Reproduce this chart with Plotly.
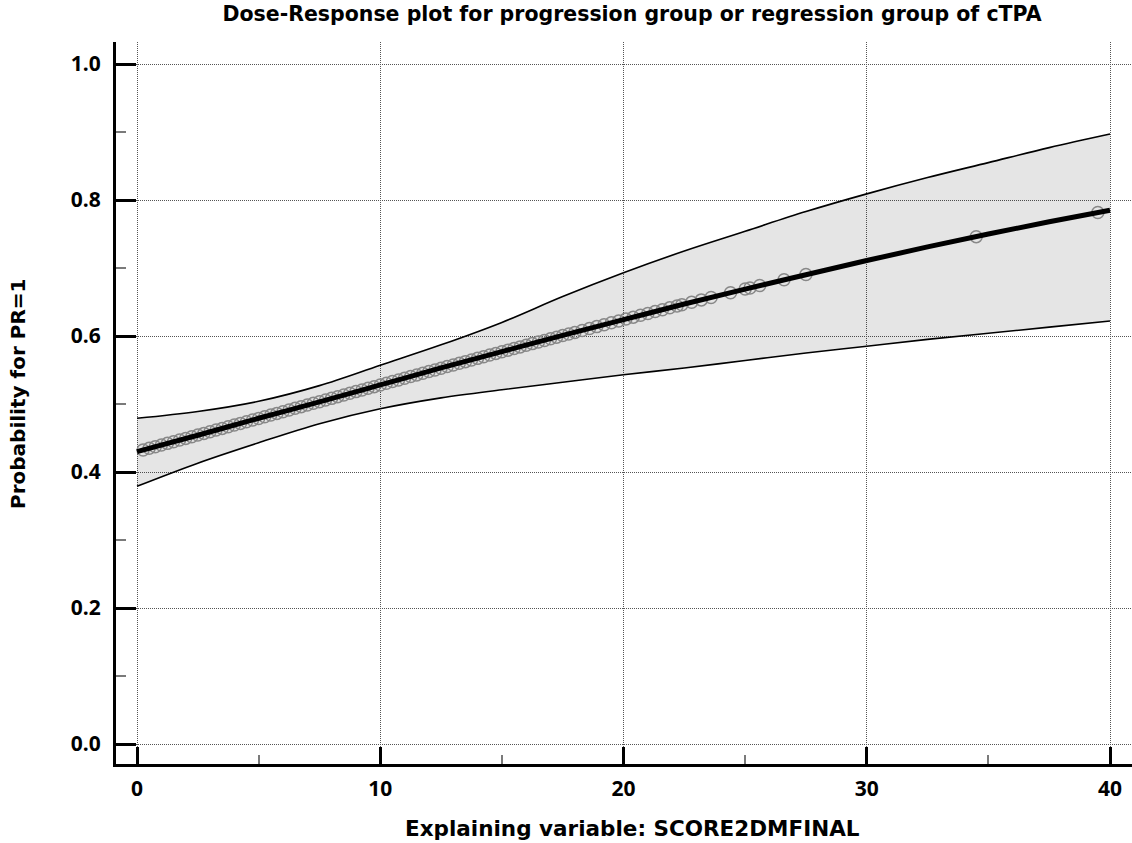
import plotly.graph_objects as go

# ---- data ----
curve_x = [0, 2.5, 5, 7.5, 10, 12.5, 15, 17.5, 20, 22.5, 25, 27.5, 30, 32.5, 35, 37.5, 40]
curve_p = [0.430, 0.454, 0.479, 0.503, 0.528, 0.553, 0.577, 0.601, 0.624, 0.647, 0.669,
           0.690, 0.711, 0.731, 0.750, 0.768, 0.785]
upper_p = [0.479, 0.489, 0.504, 0.527, 0.557, 0.587, 0.620, 0.658, 0.693, 0.725, 0.754,
           0.783, 0.809, 0.833, 0.855, 0.877, 0.897]
lower_p = [0.379, 0.413, 0.443, 0.471, 0.493, 0.509, 0.521, 0.532, 0.543, 0.553, 0.564,
           0.575, 0.585, 0.595, 0.604, 0.613, 0.622]

obs_x = [0.25, 0.5, 0.75, 1.0, 1.25, 1.5, 1.75, 2.0, 2.25, 2.5, 2.75, 3.0, 3.25, 3.5, 3.75, 4.0,
         4.25, 4.5, 4.75, 5.0, 5.25, 5.5, 5.75, 6.0, 6.25, 6.5, 6.75, 7.0, 7.25, 7.5, 7.75, 8.0,
         8.25, 8.5, 8.75, 9.0, 9.25, 9.5, 9.75, 10.0, 10.25, 10.5, 10.75, 11.0, 11.25, 11.5, 11.75, 12.0,
         12.25, 12.5, 12.75, 13.0, 13.25, 13.5, 13.75, 14.0, 14.25, 14.5, 14.75, 15.0, 15.25, 15.5, 15.75, 16.0,
         16.25, 16.5, 16.75, 17.0, 17.25, 17.5, 17.75, 18.0,
         18.3, 18.6, 18.9, 19.2, 19.5, 19.8, 20.1, 20.4, 20.7, 21.0, 21.3, 21.6, 21.9, 22.2,
         22.4, 22.8, 23.2, 23.6, 24.4, 25.0, 25.2, 25.6, 26.6, 27.5, 34.5, 39.5]
obs_p = [0.4324, 0.4348, 0.4372, 0.4396, 0.4421, 0.4445, 0.4470, 0.4494, 0.4519, 0.4543, 0.4568, 0.4592,
         0.4617, 0.4641, 0.4666, 0.4690, 0.4715, 0.4739, 0.4764, 0.4788, 0.4813, 0.4838, 0.4862, 0.4887,
         0.4912, 0.4936, 0.4961, 0.4985, 0.5010, 0.5034, 0.5059, 0.5083, 0.5108, 0.5133, 0.5157, 0.5182,
         0.5206, 0.5231, 0.5255, 0.5280, 0.5305, 0.5330, 0.5354, 0.5379, 0.5404, 0.5428, 0.5453, 0.5477,
         0.5501, 0.5526, 0.5550, 0.5574, 0.5598, 0.5623, 0.5647, 0.5671, 0.5695, 0.5720, 0.5744, 0.5768,
         0.5792, 0.5816, 0.5840, 0.5864, 0.5888, 0.5912, 0.5935, 0.5959, 0.5983, 0.6006, 0.6030, 0.6053,
         0.6081, 0.6109, 0.6138, 0.6166, 0.6194, 0.6221, 0.6249, 0.6277, 0.6304, 0.6332, 0.6359, 0.6387,
         0.6414, 0.6441, 0.6459, 0.6495, 0.6531, 0.6566, 0.6637, 0.6690, 0.6707, 0.6742, 0.6828, 0.6904,
         0.7461, 0.7817]

x_ticks = [0, 10, 20, 30, 40]
y_ticks = [0.0, 0.2, 0.4, 0.6, 0.8, 1.0]

title_text = "Dose-Response plot for progression group or regression group of cTPA"
x_title = "Explaining variable: SCORE2DMFINAL"
y_title = "Probability for PR=1"

FONT = "DejaVu Sans"
TICK_FONT = "Open Sans"

fig = go.Figure()
fig.add_trace(go.Scatter(x=curve_x, y=lower_p, mode="lines", line=dict(color="black", width=1.6, shape="spline"),
                         showlegend=False, hoverinfo="skip"))
fig.add_trace(go.Scatter(x=curve_x, y=upper_p, mode="lines", line=dict(color="black", width=1.6, shape="spline"),
                         fill="tonexty", fillcolor="rgba(0,0,0,0.10)", showlegend=False, hoverinfo="skip"))
fig.add_trace(go.Scatter(x=obs_x, y=obs_p, mode="markers",
                         marker=dict(symbol="circle-open", size=12, color="#888888", line=dict(width=1.5)),
                         showlegend=False))
fig.add_trace(go.Scatter(x=curve_x, y=curve_p, mode="lines", line=dict(color="black", width=5, shape="spline"),
                         showlegend=False))

W, H = 1132, 843
ml, mr, mt, mb = 116, 0, 42, 79
px_per_x = 24.325
px_per_y = 680.0
x0_px = 137
y0_px = 744
xr = [(ml - x0_px) / px_per_x, (W - mr - x0_px) / px_per_x]
yr = [(y0_px - (H - mb)) / px_per_y, (y0_px - mt) / px_per_y]

fig.update_layout(
    width=W, height=H,
    margin=dict(l=ml, r=mr, t=mt, b=mb, pad=0),
    paper_bgcolor="white", plot_bgcolor="white",
    font=dict(family=FONT, color="black"),
    title=dict(text="<b>" + title_text + "</b>", x=632 / W, xanchor="center", xref="container",
               y=1 - 14 / H, yanchor="middle", yref="container", font=dict(size=20.5, family=FONT)),
    annotations=[
        dict(text="<b>" + x_title + "</b>", xref="paper", yref="paper",
             x=(632 - ml) / (W - ml - mr), y=-(828 - (H - mb)) / (H - mt - mb),
             xanchor="center", yanchor="middle", showarrow=False, font=dict(size=21.5, family=FONT)),
        dict(text="<b>" + y_title + "</b>", xref="paper", yref="paper",
             x=-(ml - 18) / (W - ml - mr), y=((H - mb) - 394) / (H - mt - mb),
             xanchor="center", yanchor="middle", textangle=-90, showarrow=False,
             font=dict(size=20, family=FONT)),
    ],
)

fig.update_xaxes(
    range=xr, showline=True, linecolor="black", linewidth=3,
    tickvals=x_ticks, ticktext=["<b>%d</b>" % v for v in x_ticks],
    ticks="inside", ticklen=17, tickwidth=3, tickcolor="black",
    tickfont=dict(size=21, family=TICK_FONT), ticklabelstandoff=4,
    showgrid=True, gridcolor="#555555", gridwidth=1, griddash="1px,1px",
    minor=dict(ticks="inside", ticklen=9, tickwidth=2, tickcolor="#7a7a7a", tickvals=[5, 15, 25, 35], showgrid=False),
    zeroline=False,
)
fig.update_yaxes(
    range=yr, showline=True, linecolor="black", linewidth=3,
    tickvals=y_ticks, ticktext=["<b>%.1f</b>" % v for v in y_ticks],
    ticks="inside", ticklen=20, tickwidth=3, tickcolor="black",
    tickfont=dict(size=21, family=TICK_FONT), ticklabelstandoff=8,
    showgrid=True, gridcolor="#555555", gridwidth=1, griddash="1px,1px",
    minor=dict(ticks="inside", ticklen=10, tickwidth=2, tickcolor="#7a7a7a", tickvals=[0.1, 0.3, 0.5, 0.7, 0.9], showgrid=False),
    zeroline=False,
)

fig.write_html("out.html")
